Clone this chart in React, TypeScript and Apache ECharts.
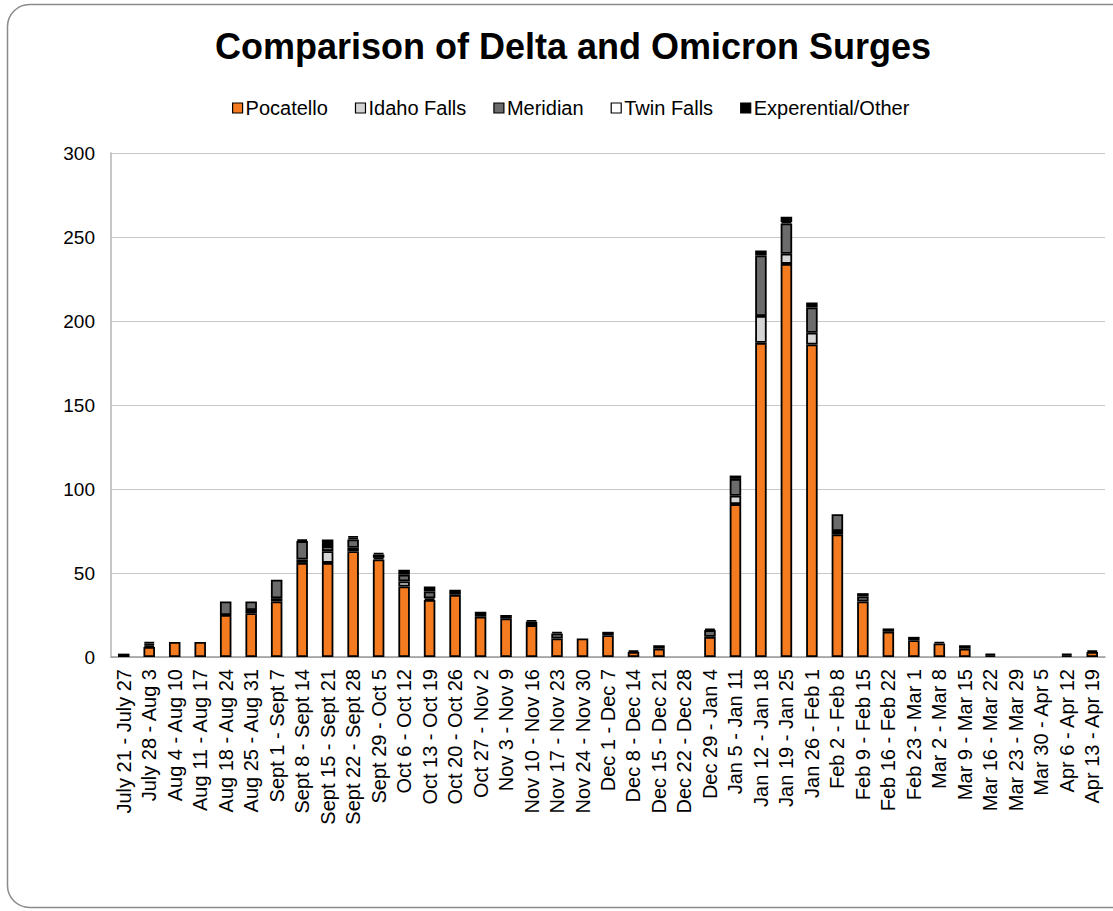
import React, { useEffect, useRef } from "react";
import * as echarts from "echarts";

const categories = [
  "July 21 - July 27", "July 28 - Aug 3", "Aug 4 - Aug 10", "Aug 11 - Aug 17",
  "Aug 18 - Aug 24", "Aug 25 - Aug 31", "Sept 1 - Sept 7", "Sept 8 - Sept 14",
  "Sept 15 - Sept 21", "Sept 22 - Sept 28", "Sept 29 - Oct 5", "Oct 6 - Oct 12",
  "Oct 13 - Oct 19", "Oct 20 - Oct 26", "Oct 27 - Nov 2", "Nov 3 - Nov 9",
  "Nov 10 - Nov 16", "Nov 17 - Nov 23", "Nov 24 - Nov 30", "Dec 1 - Dec 7",
  "Dec 8 - Dec 14", "Dec 15 - Dec 21", "Dec 22 - Dec 28", "Dec 29 - Jan 4",
  "Jan 5 - Jan 11", "Jan 12 - Jan 18", "Jan 19 - Jan 25", "Jan 26 - Feb 1",
  "Feb 2 - Feb 8", "Feb 9 - Feb 15", "Feb 16 - Feb 22", "Feb 23 - Mar 1",
  "Mar 2 - Mar 8", "Mar 9 - Mar 15", "Mar 16 - Mar 22", "Mar 23 - Mar 29",
  "Mar 30 - Apr 5", "Apr 6 - Apr 12", "Apr 13 - Apr 19",
];

const pocatello = [2, 6, 9, 9, 25, 26, 33, 56, 56, 63, 58, 42, 34, 37, 24, 23, 19, 11, 11, 13, 3, 5, 0, 12, 91, 187, 234, 186, 73, 33, 15, 10, 8, 5, 0, 0, 0, 0, 3];
const idahoFalls = [0, 1, 0, 0, 0, 2, 2, 2, 7, 2, 1, 3, 1, 0, 0, 0, 0, 0, 0, 0, 0, 0, 0, 0, 5, 16, 6, 7, 2, 0, 0, 0, 0, 0, 0, 0, 0, 0, 0];
const meridian = [0, 1, 0, 0, 8, 5, 11, 11, 3, 5, 2, 4, 4, 0, 0, 0, 2, 3, 0, 0, 0, 0, 0, 4, 10, 36, 18, 15, 10, 3, 0, 0, 0, 0, 1, 0, 0, 1, 0];
const twinFalls = [0, 0, 0, 0, 0, 0, 0, 0, 0, 1, 0, 0, 0, 0, 0, 0, 0, 0, 0, 0, 0, 0, 0, 0, 0, 0, 1, 0, 0, 0, 0, 0, 0, 0, 0, 0, 0, 0, 0];
const experentialOther = [0, 1, 0, 0, 0, 0, 0, 1, 4, 1, 1, 3, 3, 3, 3, 2, 1, 1, 0, 2, 1, 2, 0, 1, 2, 3, 3, 3, 0, 2, 2, 2, 1, 2, 1, 0, 0, 1, 1];

const yTicks = [0, 50, 100, 150, 200, 250, 300];

const seriesDefs = [
  { name: "Pocatello", data: pocatello, color: "#F47B20" },
  { name: "Idaho Falls", data: idahoFalls, color: "#D4D4D4" },
  { name: "Meridian", data: meridian, color: "#6B6B6B" },
  { name: "Twin Falls", data: twinFalls, color: "#FFFFFF" },
  { name: "Experential/Other", data: experentialOther, color: "#000000" },
];

const FONT = "'Liberation Sans', Arial, sans-serif";

export default function App() {
  const ref = useRef<HTMLDivElement>(null);
  useEffect(() => {
    if (!ref.current) return;
    const chart = echarts.init(ref.current, undefined, { renderer: "svg" });
    chart.setOption({
      animation: false,
      backgroundColor: "#ffffff",
      textStyle: { fontFamily: FONT },
      title: {
        text: "Comparison of Delta and Omicron Surges",
        left: 210,
        top: 23,
        textStyle: { fontFamily: FONT, fontSize: 36, fontWeight: "bold", color: "#000" },
      },
      legend: {
        top: 93,
        left: 227,
        itemWidth: 10,
        itemHeight: 10,
        itemGap: 27,
        icon: "rect",
        textStyle: { fontFamily: FONT, fontSize: 20, color: "#000", padding: [0, 0, 0, -2] },
        itemStyle: { borderColor: "#000", borderWidth: 1.2 },
        data: seriesDefs.map((s) => s.name),
      },
      graphic: [
        {
          type: "rect",
          shape: { x: 7.5, y: 4.5, width: 1140, height: 903, r: 22 },
          style: { fill: "none", stroke: "#8a8a8a", lineWidth: 1.5 },
          z: -10,
          silent: true,
        },
      ],
      grid: { left: 111, right: 8, top: 153, bottom: 254, containLabel: false },
      xAxis: {
        type: "category",
        data: categories,
        axisLine: { show: true, lineStyle: { color: "#9a9a9a", width: 1.5 } },
        axisTick: { show: false },
        axisLabel: {
          interval: 0,
          rotate: 90,
          margin: 12,
          fontFamily: FONT,
          fontSize: 20,
          color: "#000",
        },
      },
      yAxis: {
        type: "value",
        min: yTicks[0],
        max: yTicks[yTicks.length - 1],
        interval: 50,
        axisLine: { show: true, lineStyle: { color: "#b5b5b5", width: 1.5 } },
        axisTick: { show: false },
        splitLine: { show: true, lineStyle: { color: "#c8c8c8", width: 1.2 } },
        axisLabel: { margin: 16, fontFamily: FONT, fontSize: 19, color: "#000" },
      },
      series: seriesDefs.map((s) => ({
        name: s.name,
        type: "bar",
        stack: "total",
        barWidth: 11.5,
        data: s.data.map((v) => (v === 0 ? null : v)),
        itemStyle: { color: s.color, borderColor: "#000", borderWidth: 1.8 },
      })),
    });
    return () => chart.dispose();
  }, []);
  return (
    <div
      ref={ref}
      style={{ position: "fixed", left: 0, top: 0, width: 1113, height: 911 }}
    />
  );
}
